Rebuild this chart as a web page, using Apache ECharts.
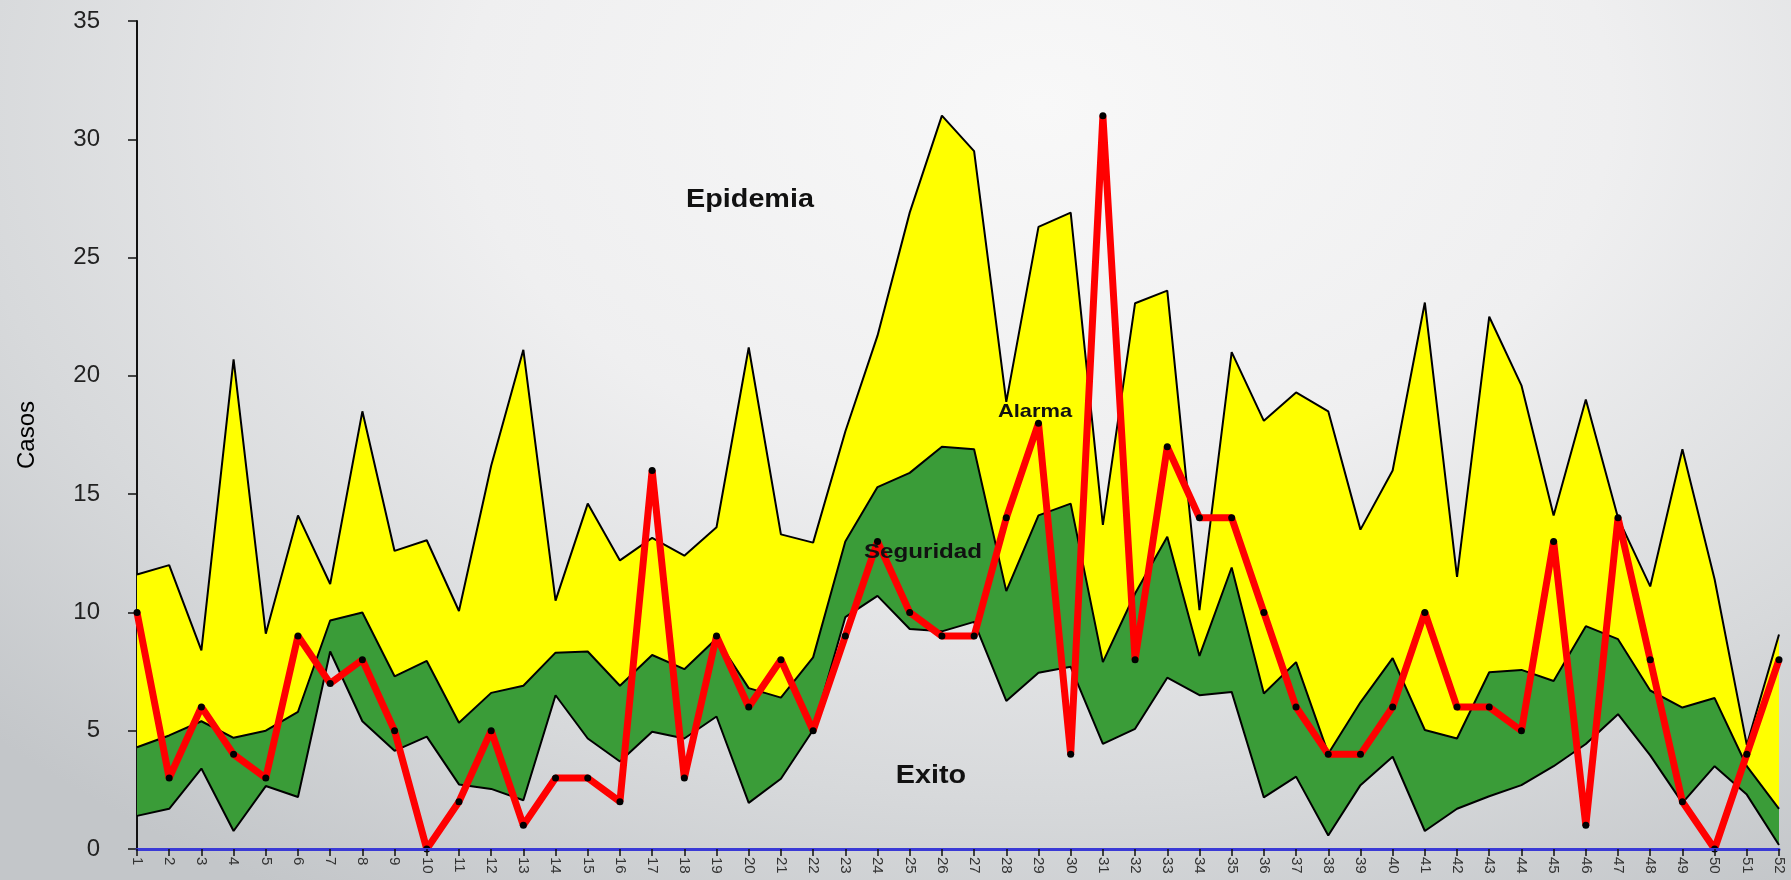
<!DOCTYPE html>
<html>
<head>
<meta charset="utf-8">
<script src="https://cdn.jsdelivr.net/npm/echarts@6/dist/echarts.min.js"></script>
<style>
  html, body { margin: 0; padding: 0; }
  body {
    width: 1791px; height: 880px; overflow: hidden;
    background: radial-gradient(ellipse 80% 105% at 58% 12%, #f8f8f8 0%, #efeff0 40%, #d7d9db 75%, #c3c6c9 100%);
  }
  #chart { width: 1791px; height: 880px; }
</style>
</head>
<body>
<div id="chart"></div>
<script>
// semanas epidemiologicas
var semanas = ['1','2','3','4','5','6','7','8','9','10','11','12','13','14','15','16','17','18','19','20',
  '21','22','23','24','25','26','27','28','29','30','31','32','33','34','35','36','37','38','39','40',
  '41','42','43','44','45','46','47','48','49','50','51','52'];

// limite inferior (exito / seguridad)
var limInferior = [1.4,1.7,3.4,0.76,2.66,2.2,8.35,5.4,4.15,4.75, 2.73,2.54,2.06,6.5,4.67,3.7,4.96,4.67,5.6,1.95,
  2.97,5.03,9.8,10.7,9.3,9.2,9.6,6.26,7.45,7.7, 4.44,5.08,7.24,6.5,6.64,2.18,3.06,0.57,2.7,3.9,
  0.76,1.7,2.23,2.7,3.5,4.44,5.7,3.96,1.95,3.5, 2.3,0.17];

// mediana (seguridad / alarma)
var mediana = [4.3,4.8,5.4,4.7,5.0,5.8,9.66,10.0,7.3,7.95, 5.34,6.6,6.9,8.3,8.35,6.9,8.2,7.6,8.9,6.8,
  6.4,8.1,13.0,15.3,15.9,17.0,16.9,10.9,14.1,14.6, 7.9,10.8,13.2,8.16,11.9,6.57,7.9,4.03,6.2,8.07,
  5.03,4.67,7.47,7.57,7.1,9.42,8.87,6.7,5.98,6.38, 3.5,1.7];

// limite superior (alarma / epidemia)
var limSuperior = [11.6,12.0,8.4,20.7,9.1,14.1,11.2,18.5,12.6,13.05, 10.06,16.2,21.1,10.5,14.6,12.2,13.15,12.4,13.6,21.2,
  13.3,12.95,17.65,21.7,26.9,31.0,29.5,18.9,26.3,26.9, 13.7,23.07,23.6,10.1,21.0,18.1,19.3,18.5,13.5,16.0,
  23.1,11.5,22.5,19.6,14.1,19.0,14.0,11.1,16.9,11.4, 4.4,9.07];

// casos observados
var casos = [10,3,6,4,3,9,7,8,5,0, 2,5,1,3,3,2,16,3,9,6, 8,5,9,13,10,9,9,14,18,4,
  31,8,17,14,14,10,6,4,4,6, 10,6,6,5,13,1,14,8,2,0, 4,8];

// bandas apiladas
var bandaVerde = [], bandaAmarilla = [];
for (var i = 0; i < semanas.length; i++) {
  bandaVerde.push(+(mediana[i] - limInferior[i]).toFixed(3));
  bandaAmarilla.push(+(limSuperior[i] - mediana[i]).toFixed(3));
}

var chart = echarts.init(document.getElementById('chart'));

var fuente = '"Liberation Sans", Arial, sans-serif';
var bordeNegro = { color: '#000', width: 2 };
var etiqueta = function(texto, x, y, size) {
  return {
    type: 'text', x: x, y: y, scaleX: 1.15, z: 100,
    style: { text: texto, fill: '#111', font: 'bold ' + size + 'px ' + fuente, align: 'center', verticalAlign: 'middle' }
  };
};

var option = {
  backgroundColor: 'transparent',
  animation: false,
  grid: {
    left: 137,
    right: 12,
    top: 21,
    bottom: 31
  },
  xAxis: {
    type: 'category',
    data: semanas,
    boundaryGap: false,
    axisLine: { lineStyle: { color: '#3a3ad6', width: 3 } },
    axisTick: { show: true, length: 7, lineStyle: { color: '#111', width: 1.5 } },
    axisLabel: {
      interval: 0,
      rotate: -90,
      margin: 8,
      fontSize: 15,
      color: '#333',
      fontFamily: fuente
    },
    splitLine: { show: false },
    z: 10
  },
  yAxis: {
    type: 'value',
    min: 0,
    max: 35,
    interval: 5,
    name: 'Casos',
    nameLocation: 'middle',
    nameRotate: 90,
    nameGap: 98,
    nameTextStyle: { fontSize: 24, color: '#000', fontFamily: fuente },
    axisLine: { show: true, lineStyle: { color: '#111', width: 2 } },
    axisTick: { show: true, length: 9, lineStyle: { color: '#111', width: 1.5 } },
    axisLabel: { fontSize: 24, color: '#222', margin: 37, fontFamily: fuente },
    splitLine: { show: false }
  },
  graphic: [
    etiqueta('Epidemia', 750, 200, 25),
    etiqueta('Alarma', 1035, 412, 19),
    etiqueta('Seguridad', 923, 552, 21),
    etiqueta('Exito', 931, 776, 25)
  ],
  series: [{
      name: 'inferior',
      type: 'line',
      stack: 'canal',
      data: limInferior,
      symbol: 'none',
      lineStyle: bordeNegro,
      z: 2
    }, {
      name: 'seguridad',
      type: 'line',
      stack: 'canal',
      data: bandaVerde,
      symbol: 'none',
      lineStyle: bordeNegro,
      areaStyle: { color: '#3a9c38', opacity: 1 },
      z: 2
    }, {
      name: 'alarma',
      type: 'line',
      stack: 'canal',
      data: bandaAmarilla,
      symbol: 'none',
      lineStyle: bordeNegro,
      areaStyle: { color: '#ffff00', opacity: 1 },
      z: 1
    }, {
      name: 'casos',
      type: 'line',
      data: casos,
      symbol: 'circle',
      symbolSize: 7,
      showSymbol: true,
      lineStyle: { color: '#ff0000', width: 7 },
      itemStyle: { color: '#000' },
      z: 5
    }
  ]
};
chart.setOption(option);
</script>
</body>
</html>
